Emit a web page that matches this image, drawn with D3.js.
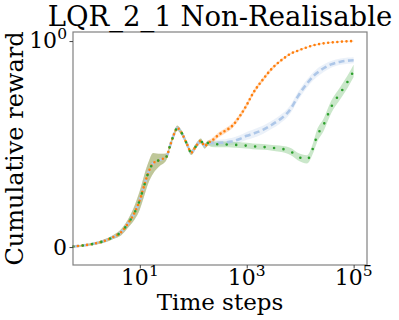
<!DOCTYPE html>
<html>
<head>
<meta charset="utf-8">
<script src="https://cdn.jsdelivr.net/npm/d3@7"></script>
<style>
  body { margin: 0; background: #fff; }
  text { font-family: "DejaVu Serif", serif; fill: #000; }
</style>
</head>
<body>
<div id="plot"></div>
<script>
// chart size
var svgWidth = 399;
var svgHeight = 320;

var margin = { top: 32, right: 32, bottom: 55, left: 73 };
var chartWidth = svgWidth - margin.left - margin.right;
var chartHeight = svgHeight - margin.top - margin.bottom;

// data
var steps = [0.57, 0.87, 1.44, 2.06, 3.2, 4.5, 6, 8.1, 10, 11.9, 14.3, 17.8, 23.6, 31.6, 36.4, 45, 50, 60, 75, 92, 111, 138, 164, 189,
  220, 300, 400, 520, 740, 1000, 1300, 2000, 3000, 4100, 5500, 6800, 9000, 13500, 17400, 20500, 27500, 38000, 57000, 78000, 100000];

var early = [0.003, 0.008, 0.017, 0.028, 0.049, 0.073, 0.114, 0.171, 0.228, 0.293, 0.358, 0.407, 0.423, 0.439, 0.488, 0.556, 0.578, 0.556, 0.504, 0.459, 0.488, 0.515, 0.49, 0.505];
var earlyStd = [0.004, 0.005, 0.006, 0.008, 0.01, 0.015, 0.02, 0.035, 0.045, 0.05, 0.05, 0.05, 0.03, 0.015, 0.012, 0.012, 0.012, 0.012, 0.012, 0.012, 0.012, 0.012, 0.012, 0.012];

var orangeMean = early.concat([0.515, 0.545, 0.565, 0.585, 0.635, 0.69, 0.745, 0.813, 0.868, 0.90, 0.925, 0.94, 0.953, 0.970, 0.979, 0.983, 0.989, 0.993, 0.997, 0.999, 1.0]);
var orangeStd = earlyStd.concat([0.012, 0.012, 0.012, 0.012, 0.012, 0.012, 0.01, 0.01, 0.008, 0.006, 0.005, 0.004, 0.004, 0.003, 0.003, 0.003, 0.002, 0.002, 0.002, 0.002, 0.002]);

var blueMean = early.concat([0.505, 0.506, 0.508, 0.512, 0.525, 0.54, 0.55, 0.569, 0.595, 0.618, 0.645, 0.675, 0.73, 0.795, 0.828, 0.845, 0.868, 0.887, 0.9, 0.905, 0.907]);
var blueStd = earlyStd.concat([0.014, 0.015, 0.016, 0.017, 0.018, 0.019, 0.02, 0.02, 0.02, 0.02, 0.02, 0.02, 0.02, 0.02, 0.02, 0.02, 0.018, 0.016, 0.015, 0.015, 0.015]);

var greenMean = early.concat([0.50, 0.499, 0.498, 0.497, 0.495, 0.492, 0.489, 0.486, 0.482, 0.478, 0.472, 0.462, 0.44, 0.426, 0.48, 0.537, 0.594, 0.68, 0.75, 0.805, 0.855]);
var greenStd = earlyStd.concat([0.014, 0.014, 0.014, 0.014, 0.014, 0.014, 0.014, 0.014, 0.014, 0.015, 0.016, 0.018, 0.018, 0.02, 0.025, 0.03, 0.03, 0.03, 0.03, 0.03, 0.03]);

var xTicks = [10, 1000, 100000];
var xTickExp = ["1", "3", "5"];
var yTicks = [0, 1];

var svg = d3.select("#plot")
  .append("svg")
  .attr("width", svgWidth)
  .attr("height", svgHeight);

var chartGroup = svg.append("g")
  .attr("transform", `translate(${margin.left}, ${margin.top})`);

// log x, symlog-like (linear below 1) y
var xLogScale = d3.scaleLog()
  .domain([Math.pow(10, -0.25), Math.pow(10, 5.25)])
  .range([0, chartWidth]);

var yLinearScale = d3.scaleLinear()
  .domain([-0.087, 1.044])
  .range([chartHeight, 0]);

var series = [
  { mean: blueMean, std: blueStd, color: "#aec7e8", dash: "6,3.5", cap: "butt", w: 2.6 },
  { mean: orangeMean, std: orangeStd, color: "#ff7f0e", dash: "0,4.6", cap: "round", w: 2.6 },
  { mean: greenMean, std: greenStd, color: "#2ca02c", dash: "0,9.5", cap: "round", w: 2.6 }
];

var drawArea = d3.area()
  .x(d => xLogScale(d.t))
  .y0(d => yLinearScale(d.m - d.s))
  .y1(d => yLinearScale(d.m + d.s))
  .curve(d3.curveMonotoneX);

var drawLine = d3.line()
  .x(d => xLogScale(d.t))
  .y(d => yLinearScale(d.m))
  .curve(d3.curveMonotoneX);

series.forEach(function(s) {
  var pts = steps.map((t, i) => ({ t: t, m: s.mean[i], s: s.std[i] }));
  chartGroup.append("path")
    .attr("d", drawArea(pts))
    .attr("fill", s.color)
    .attr("fill-opacity", 0.25);
  s.pts = pts;
});

series.forEach(function(s) {
  chartGroup.append("path")
    .attr("d", drawLine(s.pts))
    .attr("fill", "none")
    .attr("stroke", s.color)
    .attr("stroke-width", s.w)
    .attr("stroke-dasharray", s.dash)
    .attr("stroke-linecap", s.cap);
});

// frame
chartGroup.append("rect")
  .attr("width", chartWidth)
  .attr("height", chartHeight)
  .attr("fill", "none")
  .attr("stroke", "#808080")
  .attr("stroke-width", 1.2);

// x axis
var bottomAxis = d3.axisBottom(xLogScale).tickValues(xTicks).tickSize(3.5).tickFormat("");
var xAxisG = chartGroup.append("g")
  .attr("transform", "translate(0, " + chartHeight + ")")
  .call(bottomAxis);
xAxisG.select(".domain").remove();
xAxisG.selectAll("line").attr("stroke", "#444");
xTicks.forEach(function(t, i) {
  var txt = chartGroup.append("text")
    .attr("x", xLogScale(t))
    .attr("y", 285 - margin.top)
    .attr("text-anchor", "middle")
    .style("font-size", "22px");
  txt.append("tspan").text("10");
  txt.append("tspan").attr("dy", -9).style("font-size", "15.5px").text(xTickExp[i]);
});

// y axis
var leftAxis = d3.axisLeft(yLinearScale).tickValues(yTicks).tickSize(3.5).tickFormat("");
var yAxisG = chartGroup.append("g").call(leftAxis);
yAxisG.select(".domain").remove();
yAxisG.selectAll("line").attr("stroke", "#444");

chartGroup.append("text")
  .attr("x", -6)
  .attr("y", yLinearScale(0) + 8)
  .attr("text-anchor", "end")
  .style("font-size", "22px")
  .text("0");
var y1 = chartGroup.append("text")
  .attr("x", -6)
  .attr("y", yLinearScale(1) + 7)
  .attr("text-anchor", "end")
  .style("font-size", "22px");
y1.append("tspan").text("10");
y1.append("tspan").attr("dy", -9).style("font-size", "15.5px").text("0");

// labels
svg.append("text")
  .attr("x", margin.left + chartWidth / 2)
  .attr("y", 310)
  .attr("text-anchor", "middle")
  .style("font-size", "23px")
  .text("Time steps");

svg.append("text")
  .attr("transform", "rotate(-90)")
  .attr("x", -(margin.top + chartHeight / 2))
  .attr("y", 23)
  .attr("text-anchor", "middle")
  .style("font-size", "24px")
  .text("Cumulative reward");

svg.append("text")
  .attr("x", margin.left + chartWidth / 2)
  .attr("y", 26)
  .attr("text-anchor", "middle")
  .style("font-size", "27.5px")
  .text("LQR_2_1 Non-Realisable");
</script>
</body>
</html>
